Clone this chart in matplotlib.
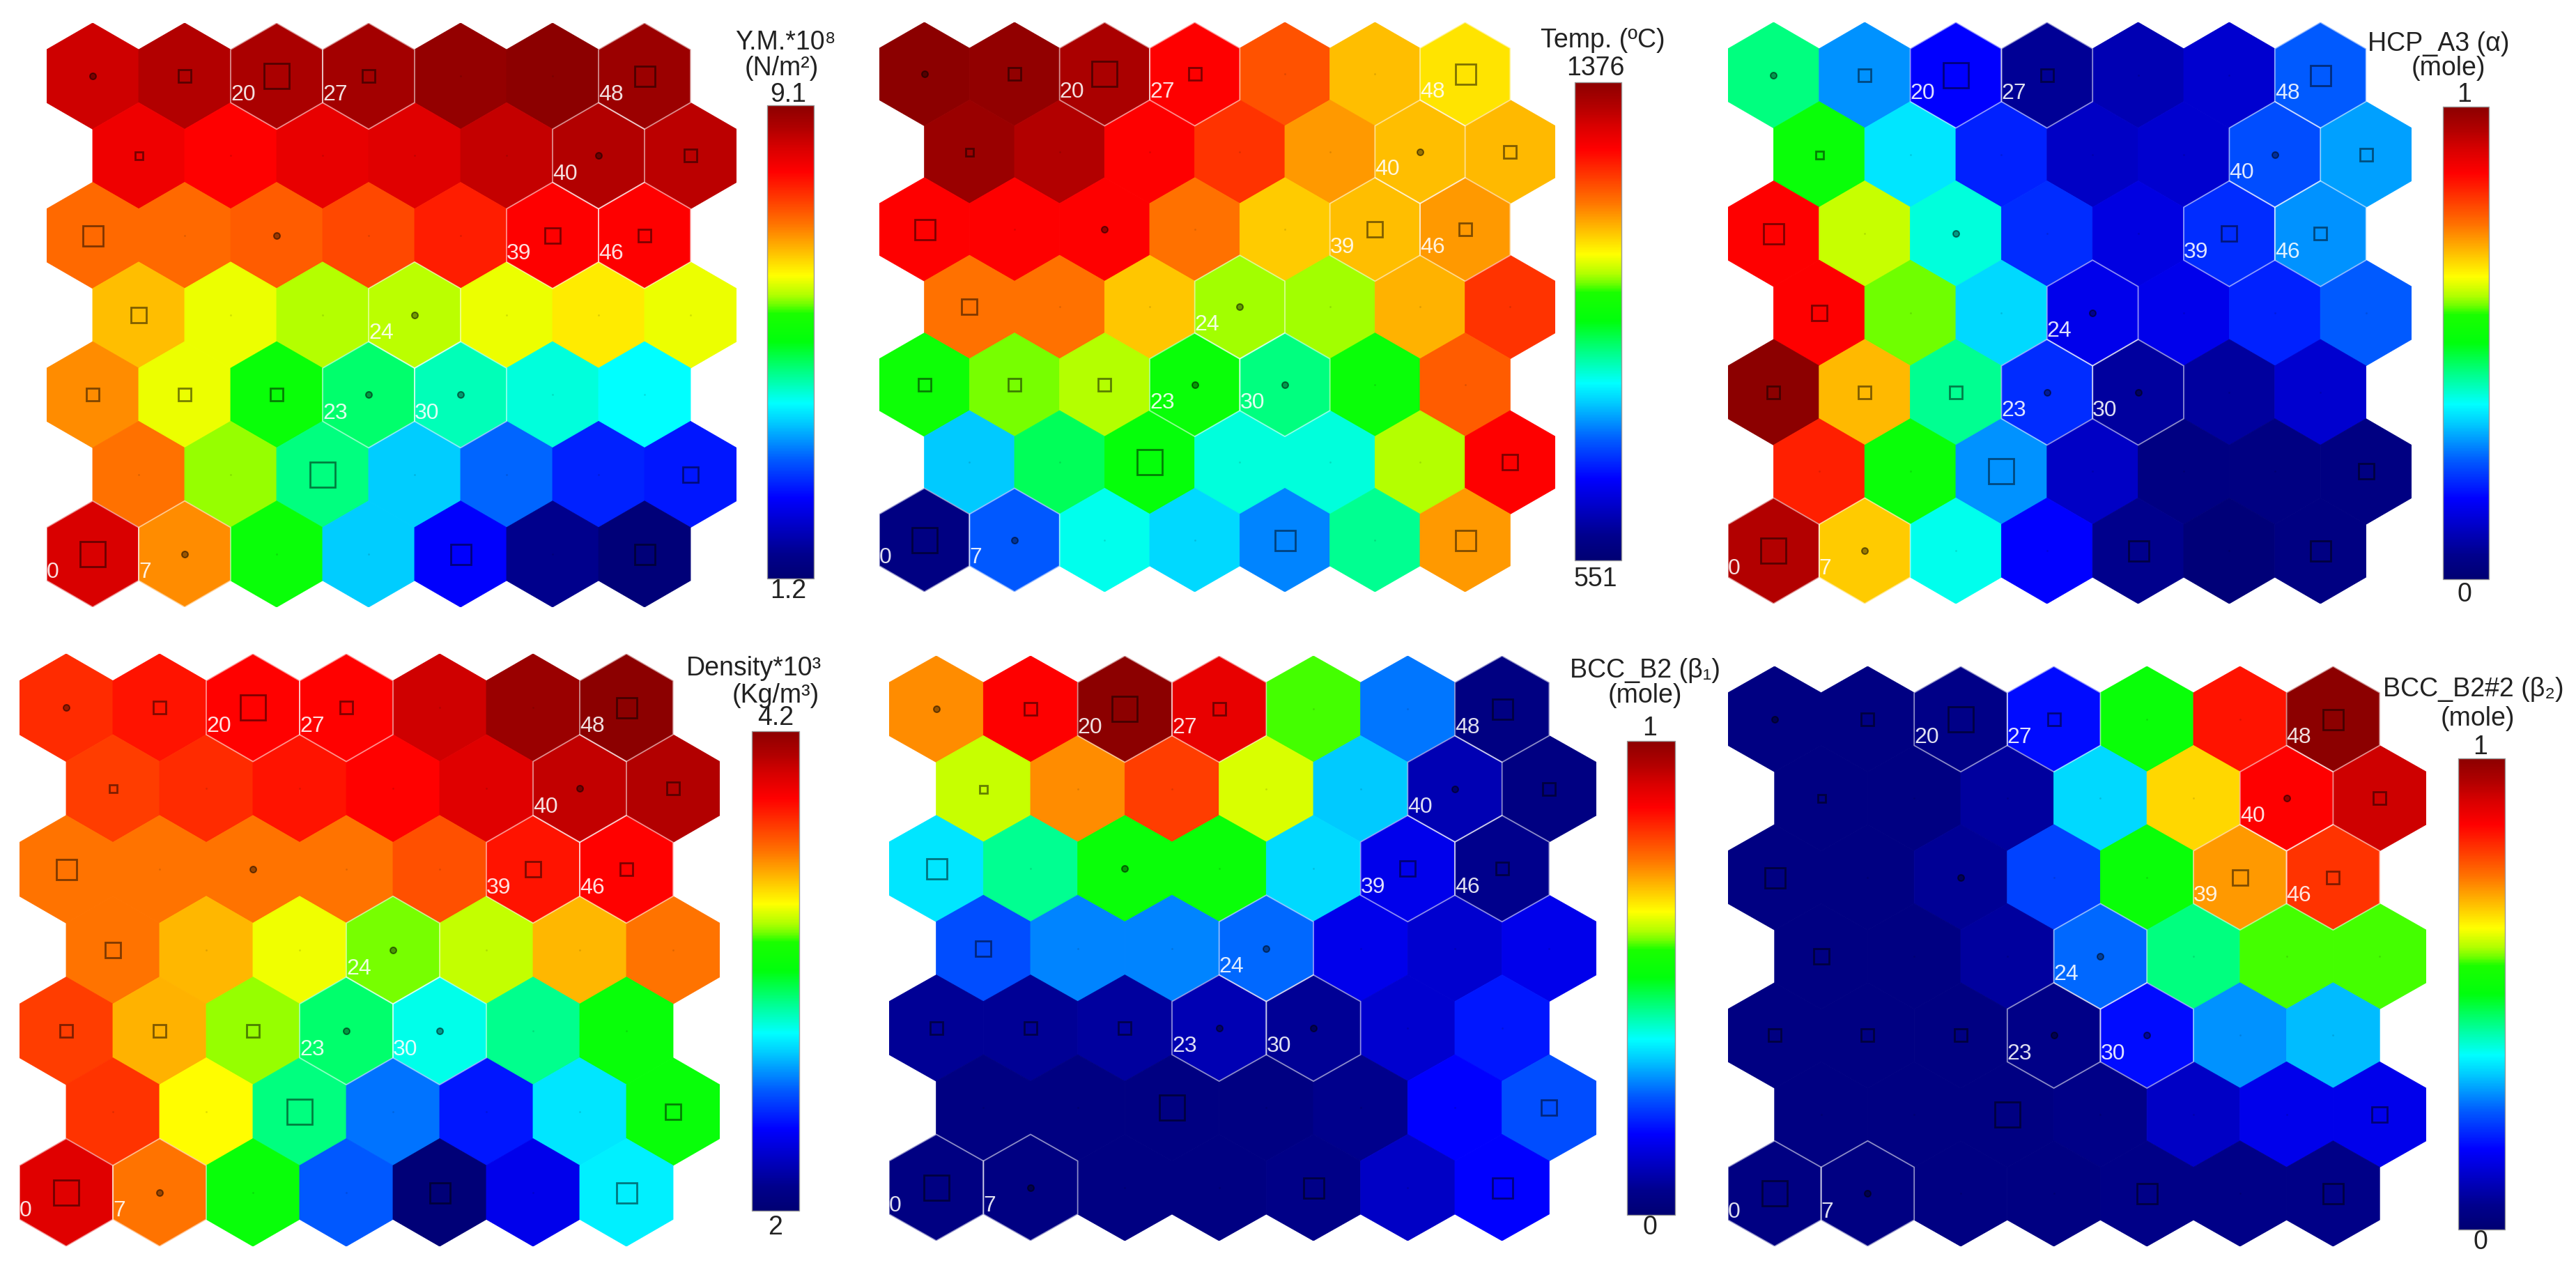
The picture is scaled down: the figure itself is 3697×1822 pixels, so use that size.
import numpy as np
import matplotlib
matplotlib.use('Agg')
import matplotlib.pyplot as plt
import matplotlib.cm as cm
from matplotlib.collections import PolyCollection
from matplotlib.colors import LinearSegmentedColormap, Normalize

plt.rcParams['font.family'] = ['Liberation Sans', 'DejaVu Sans']

# SOM component planes, 7x7 hex map, rows listed top -> bottom
ym_vals = [
    [8.47, 8.71, 8.78, 8.86, 9.02, 9.10, 8.94],
    [8.15, 8.00, 8.23, 8.31, 8.55, 8.71, 8.63],
    [7.20, 7.20, 7.28, 7.44, 7.76, 8.00, 8.00],
    [6.65, 6.18, 5.94, 5.98, 6.18, 6.37, 6.18],
    [6.97, 6.18, 5.31, 4.76, 4.44, 4.28, 4.12],
    [7.13, 5.86, 4.68, 3.81, 3.25, 2.78, 2.70],
    [8.39, 6.97, 5.31, 3.81, 2.54, 1.60, 1.28],
]
temp_vals = [
    [1376, 1368, 1343, 1261, 1195, 1120, 1096],
    [1360, 1335, 1261, 1219, 1145, 1120, 1124],
    [1261, 1261, 1261, 1170, 1112, 1120, 1145],
    [1170, 1170, 1116, 1042, 1042, 1129, 1219],
    [988, 1030, 1046, 980, 914, 980, 1186],
    [823, 931, 972, 873, 873, 1046, 1261],
    [576, 757, 865, 832, 782, 906, 1145],
]
hcp_vals = [
    [0.44, 0.29, 0.17, 0.06, 0.09, 0.12, 0.25],
    [0.52, 0.35, 0.20, 0.11, 0.12, 0.24, 0.30],
    [0.86, 0.61, 0.39, 0.21, 0.14, 0.21, 0.29],
    [0.86, 0.58, 0.34, 0.15, 0.15, 0.20, 0.25],
    [1.00, 0.695, 0.43, 0.21, 0.07, 0.07, 0.12],
    [0.83, 0.52, 0.29, 0.11, 0.03, 0.03, 0.03],
    [0.95, 0.68, 0.38, 0.17, 0.05, 0.01, 0.03],
]
dens_vals = [
    [3.80, 3.85, 3.89, 3.89, 4.02, 4.16, 4.20],
    [3.76, 3.80, 3.85, 3.89, 3.98, 4.05, 4.09],
    [3.65, 3.65, 3.65, 3.65, 3.72, 3.85, 3.89],
    [3.65, 3.53, 3.39, 3.28, 3.34, 3.53, 3.65],
    [3.76, 3.54, 3.30, 2.99, 2.84, 2.95, 3.14],
    [3.78, 3.41, 2.97, 2.59, 2.42, 2.77, 3.14],
    [3.98, 3.65, 3.14, 2.55, 2.02, 2.33, 2.79],
]
b2_vals = [
    [0.73, 0.86, 1.00, 0.89, 0.57, 0.27, 0.03],
    [0.61, 0.73, 0.80, 0.62, 0.33, 0.09, 0.03],
    [0.35, 0.43, 0.52, 0.52, 0.34, 0.15, 0.05],
    [0.24, 0.28, 0.28, 0.26, 0.15, 0.12, 0.15],
    [0.06, 0.06, 0.07, 0.09, 0.06, 0.12, 0.19],
    [0.03, 0.03, 0.03, 0.03, 0.05, 0.17, 0.24],
    [0.03, 0.03, 0.03, 0.03, 0.04, 0.11, 0.17],
]
b22_vals = [
    [0.03, 0.03, 0.04, 0.18, 0.52, 0.84, 1.00],
    [0.03, 0.03, 0.07, 0.34, 0.67, 0.86, 0.92],
    [0.03, 0.03, 0.06, 0.23, 0.52, 0.72, 0.81],
    [0.03, 0.03, 0.07, 0.26, 0.44, 0.57, 0.57],
    [0.03, 0.03, 0.03, 0.04, 0.18, 0.29, 0.32],
    [0.03, 0.03, 0.03, 0.04, 0.11, 0.15, 0.15],
    [0.03, 0.03, 0.03, 0.03, 0.04, 0.04, 0.04],
]

# hit marker class per node (0 = empty, 1 = dot, 2..6 = squares of growing size)
hit_level = [
    [1, 3, 6, 3, 0, 0, 5],
    [2, 0, 0, 0, 0, 1, 3],
    [5, 0, 1, 0, 0, 4, 3],
    [4, 0, 0, 1, 0, 0, 0],
    [3, 3, 3, 1, 1, 0, 0],
    [0, 0, 6, 0, 0, 0, 4],
    [6, 1, 0, 0, 5, 0, 5],
]
label_nodes = [0, 7, 20, 27, 48, 40, 39, 46, 24, 23, 30]

titles = [
    ('Y.M.*10⁸', '(N/m²)', '9.1', '1.2'),
    ('Temp. (ºC)', None, '1376', '551'),
    ('HCP_A3 (α)', '(mole)', '1', '0'),
    ('Density*10³', '(Kg/m³)', '4.2', '2'),
    ('BCC_B2 (β₁)', '(mole)', '1', '0'),
    ('BCC_B2#2 (β₂)', '(mole)', '1', '0'),
]
limits = [(1.2, 9.1), (551, 1376), (0, 1), (2, 4.2), (0, 1), (0, 1)]
planes = [ym_vals, temp_vals, hcp_vals, dens_vals, b2_vals, b22_vals]

cmap = LinearSegmentedColormap.from_list('som', [
    (0.00, (0, 0, 0.45)), (0.05, (0, 0, 0.55)), (0.17, (0, 0, 1)),
    (0.25, (0, 0.35, 1)), (0.33, (0, 0.8, 1)), (0.37, (0, 1, 1)),
    (0.44, (0, 1, 0.5)), (0.50, (0, 1, 0.05)), (0.56, (0.1, 1, 0)),
    (0.58, (0.45, 1, 0)), (0.60, (0.7, 1, 0)), (0.64, (1, 1, 0)),
    (0.67, (1, 0.85, 0)), (0.70, (1, 0.7, 0)), (0.75, (1, 0.45, 0)),
    (0.81, (1, 0.2, 0)), (0.86, (1, 0, 0)), (0.91, (0.85, 0, 0)),
    (0.95, (0.7, 0, 0)), (1.00, (0.55, 0, 0))], N=512)

W, H = 3697, 1822
fig = plt.figure(figsize=(W / 100, H / 100), dpi=100)


def px_axes(x0, y0, x1, y1):
    return fig.add_axes([x0 / W, 1 - y1 / H, (x1 - x0) / W, (y1 - y0) / H])


def ftext(x, y, s, **kw):
    fig.text(x / W, 1 - y / H, s, ha='center', va='center', fontsize=27, color='#222222', **kw)


hh = np.sqrt(3) / 2
rr = 1 / np.sqrt(3)
ang = np.deg2rad(90 + 60 * np.arange(6))
hex_x = rr * np.cos(ang)
hex_y = rr * np.sin(ang)

panel_box = [(67, 33, 1057, 871), (1262, 32, 2232, 849), (2480, 32, 3461, 866),
             (28, 938, 1033, 1788), (1276, 941, 2291, 1780), (2480, 956, 3482, 1788)]
cbar_box = [(1101, 151, 1168, 830), (2260, 118, 2327, 804), (3506, 153, 3572, 831),
            (1079, 1049, 1147, 1737), (2335, 1063, 2404, 1743), (3528, 1088, 3595, 1764)]
# title, subtitle, max label, min label positions (px)
text_pos = [
    [(1127, 61), (1122, 98), (1131, 136), (1131, 848)],
    [(2300, 58), None, (2290, 98), (2290, 831)],
    [(3500, 63), (3514, 98), (3537, 136), (3537, 853)],
    [(1082, 959), (1113, 998), (1113, 1030), (1113, 1761)],
    [(2361, 962), (2361, 998), (2368, 1045), (2368, 1761)],
    [(3550, 989), (3556, 1031), (3560, 1072), (3560, 1782)],
]
marker_px = {1: 9, 2: 11, 3: 18, 4: 22, 5: 29, 6: 36}


def centre(node):
    col, rb = node // 7, node % 7
    return col + 0.5 * (rb % 2), rb * hh


for k in range(6):
    ax = px_axes(*panel_box[k])
    vmin, vmax = limits[k]
    norm = Normalize(vmin, vmax)
    verts, vals = [], []
    for i in range(7):
        rb = 6 - i
        for c in range(7):
            cx, cy = c + 0.5 * (rb % 2), rb * hh
            verts.append(np.column_stack([cx + hex_x, cy + hex_y]))
            vals.append(planes[k][i][c])
    pc = PolyCollection(verts, array=np.array(vals), cmap=cmap, norm=norm,
                        edgecolors='face', linewidths=0.6)
    ax.add_collection(pc)

    # light outlines + index labels
    outl = []
    for n in label_nodes:
        cx, cy = centre(n)
        outl.append(np.column_stack([cx + hex_x, cy + hex_y]))
        ax.text(cx - 0.5, cy - 0.2, str(n), ha='left', va='center', fontsize=23,
                color='white', alpha=0.88, clip_on=True)
    ax.add_collection(PolyCollection(outl, facecolors='none', edgecolors=(1, 1, 1, 0.55),
                                     linewidths=1.3))

    # hit markers
    for i in range(7):
        rb = 6 - i
        for c in range(7):
            cx, cy = c + 0.5 * (rb % 2), rb * hh
            lv = hit_level[i][c]
            if lv == 0:
                ax.plot(cx, cy, 'o', ms=2.0, mfc=(0, 0, 0, 0.12), mec='none')
            elif lv == 1:
                ax.plot(cx, cy, 'o', ms=marker_px[1] * 0.72, mfc=(0, 0, 0, 0.4),
                        mec=(0, 0, 0, 0.5), mew=1.4)
            else:
                ax.plot(cx, cy, 's', ms=marker_px[lv] * 0.72, mfc='none',
                        mec=(0, 0, 0, 0.5), mew=2.0)

    ax.set_xlim(-0.5, 7.0)
    ax.set_ylim(-rr, 6 * hh + rr)
    ax.axis('off')

    cax = px_axes(*cbar_box[k])
    cb = fig.colorbar(cm.ScalarMappable(norm=norm, cmap=cmap), cax=cax)
    cb.set_ticks([])
    cb.outline.set_edgecolor('#9a9a9a')
    cb.outline.set_linewidth(1.0)

    t1, t2, tmax, tmin = titles[k]
    p = text_pos[k]
    ftext(*p[0], t1)
    if t2:
        ftext(*p[1], t2)
    ftext(*p[2], tmax)
    ftext(*p[3], tmin)

fig.savefig('out.png', dpi=100, facecolor='white')
